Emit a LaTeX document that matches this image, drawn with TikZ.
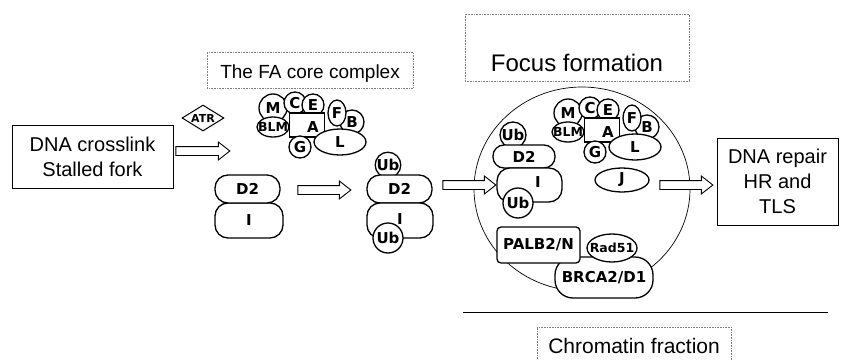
\documentclass[tikz,border=0pt]{standalone}
\usepackage{fontspec}
\setmainfont{Liberation Sans}
\newfontfamily\molfont{DejaVu Sans}[BoldFont={DejaVu Sans Bold}]
\usepackage{tikz}
\usetikzlibrary{positioning, shapes.geometric, shapes.arrows}

\begin{document}
\begin{tikzpicture}[
        x=1pt, y=-1pt,
        every node/.style={font=\fontsize{20}{25}\selectfont},
        box/.style={rectangle, draw=black, line width=1pt, align=center, inner sep=0pt},
        tag/.style={rectangle, draw=black!50, densely dotted, line width=0.6pt, inner ysep=0pt},
        moltext/.style={font=\molfont\bfseries\fontsize{15}{17}\selectfont, inner sep=0pt},
        mol/.style={draw=black, line width=1.3pt, fill=white, inner sep=0pt, font=\molfont\bfseries\fontsize{15}{17}\selectfont},
        ball/.style={mol, circle, minimum size=#1},
        pill/.style={mol, rectangle, rounded corners=13pt, minimum width=#1},
        fat/.style={single arrow, draw=black, line width=0.9pt, fill=white, inner xsep=0pt, inner ysep=4pt, single arrow head extend=4.5pt, single arrow tip angle=76, minimum height=#1},
        core/.pic={
            \node[ball=28] (-m) at (-34,-17) {M};
            \node[ball=22] (-c) at (-12,-22) {C};
            \node[ball=22] (-e) at (6,-20) {E};
            \node[ball=24] (-b) at (45,-3) {B};
            \node[mol, ellipse, minimum width=18, minimum height=26] (-f) at (30,-12) {F};
            \node[mol, rectangle, minimum width=35, minimum height=24] (-a) at (0,0) {};
            \node[mol, ellipse, minimum width=32, minimum height=20, label={[moltext, font=\molfont\bfseries\fontsize{12.5}{14}\selectfont]center:BLM}] (-blm) at (-34,2) {};
            \node[ball=22] (-g) at (-7,22) {G};
            \node[mol, ellipse, minimum width=52, minimum height=26] (-l) at (33,17) {L};
            \node[moltext] (-atxt) at (6,2) {A};
        }
    ]
    \useasboundingbox (0,0) rectangle (841,359);

    % Labels
    \node[tag, anchor=base west, inner xsep=13, text height=26, text depth=10, font=\fontsize{19}{23}\selectfont] (coretag) at (207,78) {The FA core complex};
    \node[tag, anchor=base, inner xsep=26, text height=57, text depth=10, font=\fontsize{24}{28}\selectfont] (focustag) at (577,71) {Focus formation};
    \node[tag, anchor=base west, inner xsep=11, text height=26, text depth=10, font=\fontsize{21}{25}\selectfont] (chromtag) at (537,353) {Chromatin fraction};

    % Focus and chromatin
    \node[ellipse, draw=black, line width=0.7pt, minimum width=216, minimum height=204] (focus) at (582,189) {};
    \draw[line width=1pt] (463,312) -- (828,312);

    % Boxes
    \node[box, minimum width=161, minimum height=63] (lesion) at (92.5,156.5) {DNA crosslink\\Stalled fork};
    \node[box, minimum width=121, minimum height=87] (repair) at (777.5,181.5) {DNA repair\\HR and\\TLS};

    % Signal
    \node[mol, diamond, line width=1pt, minimum width=42, minimum height=26, label={[moltext, font=\molfont\bfseries\fontsize{11}{13}\selectfont]center:ATR}] (atr) at (203,118) {};
    \pic (cc1) at (307,125) {core};

    % D2 and I
    \node[pill=68, minimum height=35] (i1) at (249,220.5) {I};
    \node[pill=65, minimum height=28] (d2a) at (247.5,189) {D2};

    \node[ball=22] (ubtop2) at (388,165) {Ub};
    \node[pill=65, minimum height=28] (d2b) at (399.5,189) {D2};
    \node[pill=66, minimum height=35] (i2) at (400,220.5) {};
    \node[moltext] (i2txt) at (400,219) {I};
    \node[ball=30] (ubbot2) at (388,238) {Ub};

    % Inside the focus
    \node[ball=26] (ubtop3) at (513,135) {Ub};
    \node[pill=62, minimum height=23, rounded corners=11pt] (d2c) at (524,156.5) {D2};
    \node[pill=65, minimum height=34] (i3) at (529.5,185) {};
    \node[moltext] (i3txt) at (538,182) {I};
    \node[ball=30] (ubbot3) at (518,203) {Ub};

    \pic (cc2) at (602,130) {core};
    \node[mol, ellipse, minimum width=54, minimum height=24] (j) at (622,180) {J};

    \node[pill=98, minimum height=41, rounded corners=18pt] (brca) at (604,277.5) {BRCA2/D1};
    \node[mol, rectangle, rounded corners=4pt, minimum width=83, minimum height=36] (palb) at (538.5,245) {PALB2/N};
    \node[mol, ellipse, minimum width=50, minimum height=28, label={[moltext, font=\molfont\bfseries\fontsize{12.5}{14}\selectfont]center:Rad51}] (rad) at (612,248) {};

    % Arrows
    \node[fat=54] (push1) at (200,151) {};
    \node[fat=53] (push2) at (321.5,190) {};
    \node[fat=53] (push3) at (466.5,185) {};
    \node[fat=53] (push4) at (683.5,185) {};

\end{tikzpicture}
\end{document}
